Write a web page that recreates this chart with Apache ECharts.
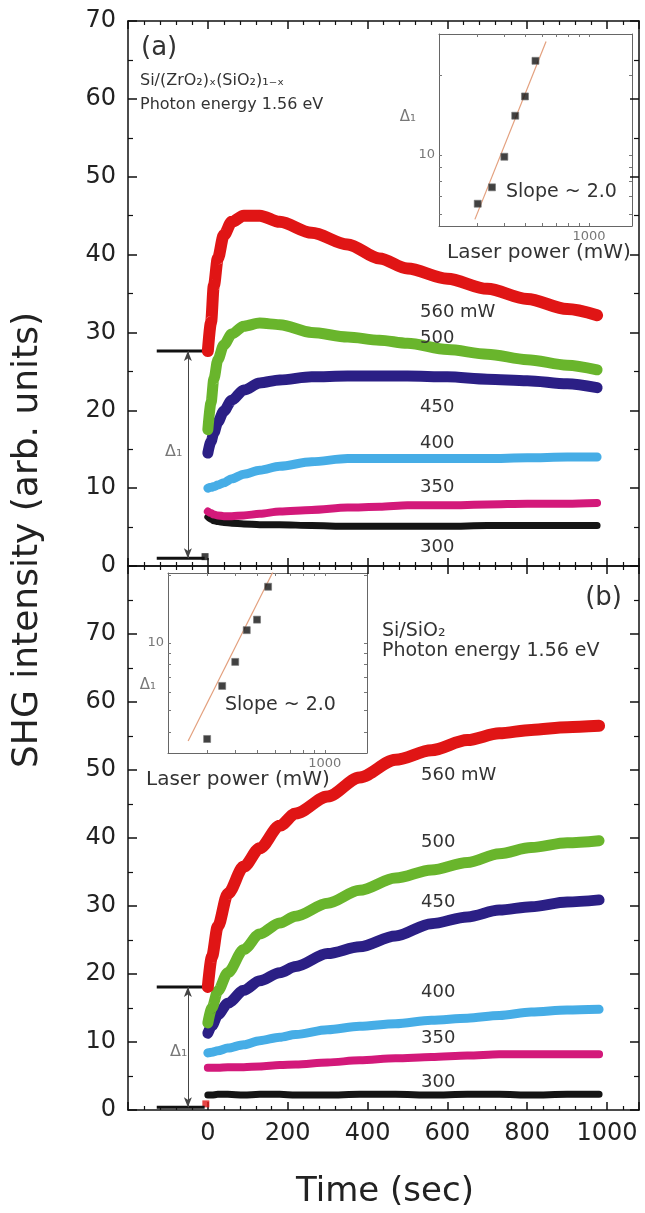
<!DOCTYPE html>
<html>
<head>
<meta charset="utf-8">
<script src="https://cdn.jsdelivr.net/npm/echarts@6.0.0/dist/echarts.min.js"></script>
<style>
  html, body { margin: 0; padding: 0; background: #fff; }
  #main { width: 645px; height: 1213px; }
</style>
</head>
<body>
<div id="main"></div>
<script>
// ---- data ----
// panel (a): Si/(ZrO2)x(SiO2)1-x
const timeA = [0, 8, 15, 25, 40, 60, 90, 130, 180, 260, 350, 430, 500, 600, 700, 800, 900, 975];
const shg560A = [27.6, 31.3, 36.0, 39.5, 42.5, 44.2, 45.0, 45.0, 44.2, 42.8, 41.3, 39.5, 38.2, 36.9, 35.6, 34.3, 33.0, 32.2];
const shg500A = [17.5, 21.0, 24.0, 26.5, 28.4, 29.8, 30.8, 31.2, 31.0, 30.0, 29.4, 29.0, 28.6, 27.8, 27.2, 26.5, 25.8, 25.2];
const shg450A = [14.5, 16.0, 17.1, 18.5, 19.9, 21.3, 22.6, 23.5, 23.9, 24.3, 24.4, 24.4, 24.4, 24.3, 24.0, 23.8, 23.4, 22.9];
const shg400A = [10.0, 10.1, 10.2, 10.4, 10.7, 11.2, 11.8, 12.3, 12.8, 13.4, 13.8, 13.8, 13.8, 13.8, 13.8, 13.9, 14.0, 14.0];
const shg350A = [7.0, 6.8, 6.6, 6.5, 6.4, 6.4, 6.5, 6.7, 7.0, 7.2, 7.5, 7.6, 7.8, 7.8, 7.9, 8.0, 8.0, 8.1];
const shg300A = [6.3, 6.0, 5.8, 5.7, 5.6, 5.5, 5.4, 5.3, 5.3, 5.2, 5.1, 5.1, 5.1, 5.1, 5.2, 5.2, 5.2, 5.2];

// panel (b): Si/SiO2
const timeB = [0, 10, 25, 50, 90, 130, 180, 220, 300, 380, 470, 560, 650, 730, 810, 900, 980];
const shg560B = [18.1, 22.5, 27.0, 31.8, 35.8, 38.5, 41.8, 43.6, 46.1, 48.9, 51.5, 52.9, 54.4, 55.4, 55.9, 56.3, 56.5];
const shg500B = [12.8, 15.0, 17.5, 20.2, 23.6, 25.9, 27.5, 28.5, 30.4, 32.3, 34.1, 35.3, 36.4, 37.7, 38.6, 39.3, 39.6];
const shg450B = [11.3, 12.4, 14.0, 15.7, 17.6, 19.0, 20.2, 21.1, 23.0, 24.0, 25.6, 27.4, 28.4, 29.4, 29.9, 30.6, 30.9];
const shg400B = [8.4, 8.5, 8.7, 9.1, 9.6, 10.2, 10.7, 11.1, 11.8, 12.3, 12.7, 13.2, 13.5, 13.9, 14.4, 14.7, 14.8];
const shg350B = [6.2, 6.2, 6.2, 6.3, 6.3, 6.4, 6.6, 6.7, 7.0, 7.3, 7.6, 7.8, 8.0, 8.2, 8.2, 8.2, 8.2];
const shg300B = [2.2, 2.2, 2.3, 2.3, 2.2, 2.3, 2.3, 2.2, 2.2, 2.3, 2.3, 2.2, 2.3, 2.3, 2.2, 2.3, 2.3];

const powerLabels = ['300', '350', '400', '450', '500', '560 mW'];

// before the laser is switched on, and the Delta1 step
const preTime = [-128, -8];
const arrowTime = -50;
const stepA = [27.6, 1.0];
const stepB = [18.1, 0.4];
const preMarkA = [[-7, 1.2]];
const preMarkB = [[-5, 0.9]];

// insets: Delta1 vs laser power (log-log)
const laserPower = [300, 350, 400, 450, 500, 560];
const delta1A = [6.56, 7.56, 9.85, 14.05, 16.6, 22.6];
const delta1B = [3.73, 6.43, 8.23, 11.4, 12.7, 17.8];
const fitA = [[291, 5.73], [628, 26.7]];
const fitB = [[247, 3.65], [595, 21.2]];

const xTicks = [0, 200, 400, 600, 800, 1000];
const yTicksA = [0, 10, 20, 30, 40, 50, 60, 70];
const yTicksB = [0, 10, 20, 30, 40, 50, 60, 70];

// ---- chart ----
const FONT = 'DejaVu Sans';
const chart = echarts.init(document.getElementById('main'));

const curveColors = ['#151515', '#d3197a', '#46ade6', '#2b1f85', '#69b52c', '#e01515'];
const curveWidths = [7, 8, 9, 11, 11, 12];

function pairs(ts, vs) {
  return ts.map((t, i) => [t, vs[i]]);
}

function curves(ts, sets, idx) {
  return sets.map((vals, i) => ({
    type: 'line',
    xAxisIndex: idx,
    yAxisIndex: idx,
    data: pairs(ts, vals),
    symbol: 'none',
    smooth: 0.3,
    smoothMonotone: 'x',
    silent: true,
    z: 3 + i,
    lineStyle: { color: curveColors[i], width: curveWidths[i], cap: 'round', join: 'round' }
  }));
}

function step(levels, mark, markColor, idx) {
  const bar = (v) => ({
    type: 'line', xAxisIndex: idx, yAxisIndex: idx, silent: true, symbol: 'none',
    data: [[preTime[0], v], [preTime[1], v]],
    lineStyle: { color: '#111', width: 3 }
  });
  const top = bar(levels[0]);
  top.markLine = {
    silent: true,
    symbol: ['arrow', 'arrow'],
    symbolSize: [6, 10],
    label: { show: false },
    lineStyle: { color: '#444', width: 1, type: 'solid' },
    data: [[{ coord: [arrowTime, levels[0]] }, { coord: [arrowTime, levels[1]] }]]
  };
  return [top, bar(levels[1]), {
    type: 'scatter', xAxisIndex: idx, yAxisIndex: idx, silent: true,
    data: mark, symbol: 'rect', symbolSize: 7, itemStyle: { color: markColor }
  }];
}

function mainX(grid, position, labels) {
  return {
    type: 'value', gridIndex: grid, position, min: -200, max: 1080, interval: 200,
    axisLine: { show: true, onZero: false, lineStyle: { color: '#111', width: 1.5 } },
    axisTick: { show: true, inside: true, length: 8, lineStyle: { color: '#111', width: 1.5 } },
    minorTick: { show: true, splitNumber: 5, length: 4, lineStyle: { color: '#111', width: 1.2 } },
    splitLine: { show: false },
    axisLabel: {
      show: labels, margin: 12, fontFamily: FONT, fontSize: 24, color: '#222',
      formatter: (v) => (xTicks.indexOf(v) >= 0 ? String(v) : '')
    }
  };
}

function mainY(grid, position, max, ticks) {
  return {
    type: 'value', gridIndex: grid, position, min: 0, max, interval: 10,
    axisLine: { show: true, onZero: false, lineStyle: { color: '#111', width: 1.5 } },
    axisTick: { show: true, inside: true, length: 9, lineStyle: { color: '#111', width: 1.5 } },
    minorTick: { show: true, splitNumber: 2, length: 5, lineStyle: { color: '#111', width: 1.2 } },
    splitLine: { show: false },
    axisLabel: {
      show: position === 'left', margin: 12, fontFamily: FONT, fontSize: 24, color: '#222',
      formatter: (v) => (ticks.indexOf(v) >= 0 ? String(v) : '')
    }
  };
}

function insetAxis(grid, position, range, ticks, labels) {
  return {
    type: 'log', logBase: 10, gridIndex: grid, position, min: range[0], max: range[1],
    axisLine: { show: true, onZero: false, lineStyle: { color: '#666', width: 1 } },
    axisTick: { show: true, inside: true, length: 3, customValues: ticks, lineStyle: { color: '#777', width: 1 } },
    splitLine: { show: false },
    axisLabel: {
      show: labels.length > 0, customValues: labels, margin: 4,
      fontFamily: FONT, fontSize: 13, color: '#777',
      formatter: (v) => String(Math.round(v))
    }
  };
}

const insetXTicks = [300, 400, 500, 600, 700, 800, 900, 1000];
const insetYTicksA = [6, 7, 8, 9, 10, 20];
const insetYTicksB = [4, 5, 6, 7, 8, 9, 10, 20];

function insetSeries(data, fit, idx) {
  return [{
    type: 'line', xAxisIndex: idx, yAxisIndex: idx, silent: true, symbol: 'none',
    data: fit, lineStyle: { color: '#e3a07e', width: 1.2 }, z: 20
  }, {
    type: 'scatter', xAxisIndex: idx, yAxisIndex: idx, silent: true,
    data: laserPower.map((p, i) => [p, data[i]]),
    symbol: 'rect', symbolSize: 7, z: 21,
    itemStyle: { color: '#111', borderColor: '#777', borderWidth: 0.8 }
  }];
}

function txt(text, x, y, size, opt) {
  opt = opt || {};
  return {
    type: 'text', x, y, z: 100, rotation: opt.rotation || 0, silent: true,
    style: {
      text, fontFamily: FONT, fontSize: size, fill: opt.fill || '#333',
      align: opt.align || 'left', verticalAlign: 'middle',
      textAlign: opt.align || 'left', textVerticalAlign: 'middle'
    }
  };
}

const labelsA = [547, 487, 443, 407, 338, 312];
const labelsB = [1082, 1038, 992, 902, 842, 775];

const graphics = [
  txt('SHG intensity (arb. units)', 28, 540, 36, { align: 'center', rotation: Math.PI / 2, fill: '#222' }),
  txt('Time (sec)', 385, 1192, 34, { align: 'center', fill: '#222' }),
  txt('(a)', 141, 48, 26),
  txt('Si/(ZrO₂)ₓ(SiO₂)₁₋ₓ', 140, 81, 16),
  txt('Photon energy 1.56 eV', 140, 105, 16),
  txt('(b)', 622, 598, 26, { align: 'right' }),
  txt('Si/SiO₂', 382, 631, 19),
  txt('Photon energy 1.56 eV', 382, 651, 19),
  txt('Δ₁', 165, 452, 16, { fill: '#777' }),
  txt('Δ₁', 170, 1052, 16, { fill: '#777' }),
  txt('Δ₁', 408, 117, 15, { fill: '#777', align: 'center' }),
  txt('Δ₁', 148, 685, 15, { fill: '#777', align: 'center' }),
  txt('Slope ~ 2.0', 506, 192, 19),
  txt('Slope ~ 2.0', 225, 705, 19),
  txt('Laser power (mW)', 447, 253, 20),
  txt('Laser power (mW)', 146, 780, 20)
];
powerLabels.forEach((s, i) => {
  graphics.push(txt(s, 420, labelsA[i], 18));
  graphics.push(txt(s, 421, labelsB[i], 18));
});

const option = {
  backgroundColor: '#fff',
  animation: false,
  grid: [
    { left: 128, top: 21, width: 511, height: 545 },
    { left: 128, top: 566, width: 511, height: 544 },
    { left: 439, top: 34, width: 193, height: 192 },
    { left: 168, top: 573, width: 199, height: 180 }
  ],
  xAxis: [
    mainX(0, 'bottom', false),
    mainX(0, 'top', false),
    mainX(1, 'bottom', true),
    mainX(1, 'top', false),
    insetAxis(2, 'bottom', [197.4, 1590], insetXTicks, [1000]),
    insetAxis(2, 'top', [197.4, 1590], insetXTicks, []),
    insetAxis(3, 'bottom', [201, 1541], insetXTicks, [1000]),
    insetAxis(3, 'top', [201, 1541], insetXTicks, [])
  ],
  yAxis: [
    mainY(0, 'left', 70, yTicksA),
    mainY(0, 'right', 70, yTicksA),
    mainY(1, 'left', 80, yTicksB),
    mainY(1, 'right', 80, yTicksB),
    insetAxis(2, 'left', [5.41, 28.5], insetYTicksA, [10]),
    insetAxis(2, 'right', [5.41, 28.5], insetYTicksA, []),
    insetAxis(3, 'left', [3.23, 20.5], insetYTicksB, [10]),
    insetAxis(3, 'right', [3.23, 20.5], insetYTicksB, [])
  ],
  series: [
    ...curves(timeA, [shg300A, shg350A, shg400A, shg450A, shg500A, shg560A], 0),
    ...curves(timeB, [shg300B, shg350B, shg400B, shg450B, shg500B, shg560B], 2),
    ...step(stepA, preMarkA, '#111', 0),
    ...step(stepB, preMarkB, '#e01515', 2),
    ...insetSeries(delta1A, fitA, 4),
    ...insetSeries(delta1B, fitB, 6)
  ],
  graphic: graphics
};

chart.setOption(option);
</script>
</body>
</html>
